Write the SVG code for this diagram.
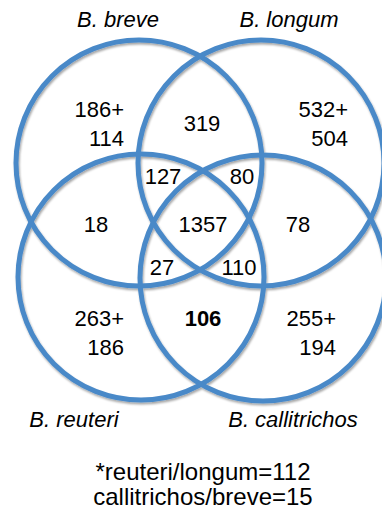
<svg xmlns="http://www.w3.org/2000/svg" width="382" height="511" viewBox="0 0 382 511">
  <defs>
    <filter id="shadow" x="-10%" y="-10%" width="120%" height="120%">
      <feDropShadow dx="1" dy="2" stdDeviation="1.2" flood-color="#000" flood-opacity="0.35"/>
    </filter>
    <style>
      .set { fill: none; stroke: #4a89c8; stroke-width: 5; }
      .lbl { font-family: "Liberation Sans", Arial, sans-serif; font-size: 22px; font-style: italic; fill: #000; text-anchor: middle; }
      .num { font-family: "Liberation Sans", Arial, sans-serif; font-size: 22px; fill: #000; text-anchor: middle; }
      .end { text-anchor: end; }
      .bold { font-weight: bold; }
      .note { font-family: "Liberation Sans", Arial, sans-serif; font-size: 24px; fill: #000; text-anchor: middle; }
    </style>
  </defs>
  <rect width="382" height="511" fill="#fff"/>
  <g id="sets" filter="url(#shadow)">
    <g id="breve"><circle class="set" cx="139" cy="163" r="123"/></g>
    <g id="longum"><circle class="set" cx="261" cy="163" r="123"/></g>
    <g id="reuteri"><circle class="set" cx="141" cy="277" r="123"/></g>
    <g id="callitrichos"><circle class="set" cx="263" cy="278" r="123"/></g>
  </g>
  <g id="connectors"/>
  <g id="set-labels">
    <text class="lbl" x="118" y="27">B. breve</text>
    <text class="lbl" x="289" y="27">B. longum</text>
    <text class="lbl" x="74" y="427">B. reuteri</text>
    <text class="lbl" x="293" y="427">B. callitrichos</text>
  </g>
  <g id="region-counts">
    <text class="num end" x="124" y="117">186+</text>
    <text class="num end" x="124" y="146">114</text>
    <text class="num" x="202" y="131">319</text>
    <text class="num end" x="348" y="117">532+</text>
    <text class="num end" x="348" y="146">504</text>
    <text class="num" x="163" y="184">127</text>
    <text class="num" x="242" y="184">80</text>
    <text class="num" x="96" y="232">18</text>
    <text class="num" x="203" y="232">1357</text>
    <text class="num" x="298" y="232">78</text>
    <text class="num" x="162" y="275">27</text>
    <text class="num" x="239" y="275">110</text>
    <text class="num end" x="124" y="326">263+</text>
    <text class="num end" x="124" y="355">186</text>
    <text class="num bold" x="203" y="326">106</text>
    <text class="num end" x="336" y="326">255+</text>
    <text class="num end" x="336" y="355">194</text>
  </g>
  <g id="notes">
    <text class="note" x="203" y="480">*reuteri/longum=112</text>
    <text class="note" x="203" y="505">callitrichos/breve=15</text>
  </g>
</svg>
